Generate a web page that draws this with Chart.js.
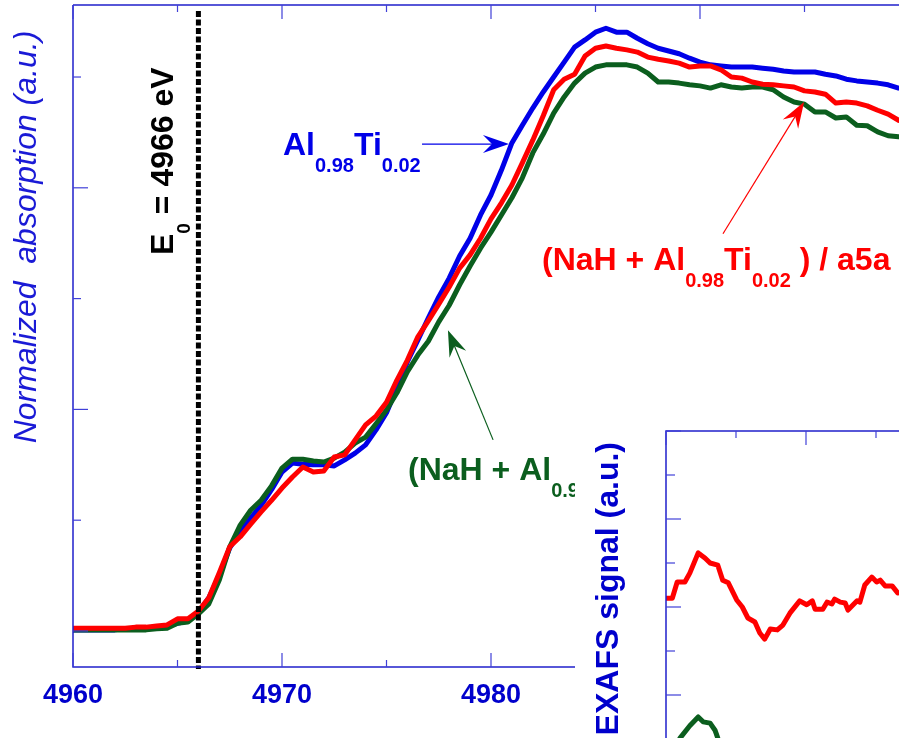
<!DOCTYPE html>
<html>
<head>
<meta charset="utf-8">
<script src="https://cdn.jsdelivr.net/npm/chart.js@4/dist/chart.umd.min.js"></script>
<style>
  html, body { margin: 0; padding: 0; background: #fff; overflow: hidden; width: 899px; height: 738px; }
  #main { position: absolute; left: 0; top: 0; }
  #inset { position: absolute; left: 575px; top: 415px; background: #fff; }
</style>
</head>
<body>
<canvas id="main" width="960" height="738"></canvas>
<canvas id="inset" width="380" height="420"></canvas>
<script>
// photon energy (eV)
const energy = [
  4960, 4960.5, 4961, 4961.5, 4962, 4962.5, 4963, 4963.5, 4964, 4964.5,
  4965, 4965.5, 4966, 4966.5, 4967, 4967.5, 4968, 4968.5, 4969, 4969.5,
  4970, 4970.5, 4971, 4971.5, 4972, 4972.5, 4973, 4973.5, 4974, 4974.5,
  4975, 4975.5, 4976, 4976.5, 4977, 4977.5, 4978, 4978.5, 4979, 4979.5,
  4980, 4980.5, 4981, 4981.5, 4982, 4982.5, 4983, 4983.5, 4984, 4984.5,
  4985, 4985.5, 4986, 4986.5, 4987, 4987.5, 4988, 4988.5, 4989, 4989.5,
  4990, 4990.5, 4991, 4991.5, 4992, 4992.5, 4993, 4993.5, 4994, 4994.5,
  4995, 4995.5, 4996, 4996.5, 4997, 4997.5, 4998, 4998.5, 4999, 4999.5, 5000
];

// Al0.98Ti0.02
const alTi = [
  0.002, 0.002, 0.002, 0.002, 0.002, 0.004, 0.004, 0.004, 0.005, 0.009,
  0.014, 0.018, 0.034, 0.060, 0.101, 0.150, 0.179, 0.204, 0.227, 0.255,
  0.287, 0.303, 0.301, 0.300, 0.300, 0.298, 0.309, 0.321, 0.336, 0.363,
  0.394, 0.439, 0.486, 0.525, 0.565, 0.603, 0.637, 0.677, 0.709, 0.751,
  0.787, 0.832, 0.881, 0.913, 0.944, 0.973, 1.000, 1.027, 1.054, 1.067,
  1.081, 1.088, 1.081, 1.081, 1.070, 1.060, 1.052, 1.047, 1.042, 1.034,
  1.027, 1.022, 1.020, 1.018, 1.018, 1.018, 1.016, 1.014, 1.011, 1.009,
  1.009, 1.009, 1.005, 1.002, 0.996, 0.993, 0.991, 0.989, 0.986, 0.980, 0.977
];

// (NaH + Al0.98Ti0.02) / a5a
const nahA5a = [
  0.005, 0.005, 0.005, 0.005, 0.005, 0.005, 0.007, 0.007, 0.009, 0.011,
  0.022, 0.022, 0.036, 0.060, 0.105, 0.152, 0.170, 0.193, 0.215, 0.236,
  0.258, 0.278, 0.296, 0.287, 0.289, 0.314, 0.318, 0.345, 0.372, 0.388,
  0.413, 0.453, 0.489, 0.531, 0.560, 0.590, 0.621, 0.655, 0.679, 0.709,
  0.744, 0.773, 0.805, 0.845, 0.886, 0.930, 0.977, 0.996, 1.005, 1.038,
  1.052, 1.056, 1.052, 1.049, 1.045, 1.036, 1.032, 1.029, 1.025, 1.018,
  1.020, 1.020, 1.013, 1.000, 0.998, 0.991, 0.987, 0.986, 0.984, 0.982,
  0.975, 0.973, 0.969, 0.953, 0.955, 0.953, 0.948, 0.940, 0.933, 0.922, 0.917
];

// (NaH + Al0.98Ti0.02)
const nahAlTi = [
  0.002, 0.002, 0.002, 0.002, 0.002, 0.002, 0.002, 0.002, 0.004, 0.005,
  0.014, 0.016, 0.031, 0.049, 0.092, 0.152, 0.191, 0.218, 0.236, 0.262,
  0.294, 0.310, 0.310, 0.307, 0.305, 0.312, 0.323, 0.339, 0.350, 0.374,
  0.399, 0.430, 0.468, 0.498, 0.523, 0.558, 0.588, 0.625, 0.659, 0.691,
  0.720, 0.751, 0.782, 0.818, 0.863, 0.897, 0.935, 0.964, 0.989, 1.007,
  1.018, 1.022, 1.022, 1.022, 1.018, 1.007, 0.991, 0.991, 0.989, 0.986,
  0.984, 0.980, 0.986, 0.982, 0.980, 0.982, 0.982, 0.977, 0.964, 0.955,
  0.951, 0.937, 0.937, 0.926, 0.928, 0.913, 0.912, 0.901, 0.894, 0.892, 0.890
];

// axis ticks
const xTicks = [4960, 4965, 4970, 4975, 4980, 4985, 4990, 4995, 5000];
const xTickLabels = ['4960', '', '4970', '', '4980', '', '4990', '', '5000'];
const yTicks = [0, 0.2, 0.4, 0.6, 0.8, 1.0];
const yMajor = [0, 0.4, 0.8];
const edgeE0 = 4966;

// inset: EXAFS signal
const insetKRed = [2.00, 2.09, 2.16, 2.27, 2.34, 2.46, 2.56, 2.63, 2.74, 2.81, 2.89,
  3.01, 3.09, 3.17, 3.27, 3.34, 3.41, 3.49, 3.59, 3.67, 3.77, 3.91, 4.01, 4.09,
  4.13, 4.24, 4.30, 4.37, 4.41, 4.49, 4.56, 4.60, 4.73, 4.77, 4.84, 4.94, 5.01,
  5.06, 5.13, 5.23, 5.31];
const insetRed = [0.20, 0.20, 0.57, 0.57, 0.77, 1.23, 1.11, 1.00, 0.95, 0.61, 0.55,
  0.16, 0.00, -0.25, -0.34, -0.59, -0.73, -0.50, -0.52, -0.41, -0.14, 0.14, 0.05, 0.14,
  -0.05, -0.05, 0.11, 0.07, 0.18, 0.11, 0.09, -0.07, 0.14, 0.11, 0.50, 0.68, 0.57,
  0.61, 0.48, 0.48, 0.32];
const insetKGreen = [2.10, 2.20, 2.34, 2.46, 2.53, 2.63, 2.70, 2.74, 2.80];
const insetGreen = [-3.30, -2.98, -2.70, -2.50, -2.61, -2.64, -2.80, -2.98, -3.30];
const insetXTicks = [2, 3, 4, 5, 6];
const insetYTicks = [-4, -3, -2, -1, 0, 1, 2, 3, 4];

const BLUE = '#0000e8';
const RED = '#ff0000';
const GREEN = '#0b5e1e';
const AXIS = '#2020cc';
const FONT = '"Liberation Sans", Arial, sans-serif';

function pts(xs, ys) {
  return xs.map((v, i) => ({ x: v, y: ys[i] }));
}

function drawRich(ctx, parts, x, y, big, small, drop) {
  let cx = x;
  for (const [txt, sub] of parts) {
    ctx.font = 'bold ' + (sub ? small : big) + 'px ' + FONT;
    ctx.fillText(txt, cx, sub ? y + drop : y);
    cx += ctx.measureText(txt).width;
  }
}

function arrow(ctx, x0, y0, x1, y1, color) {
  const ang = Math.atan2(y1 - y0, x1 - x0);
  ctx.save();
  ctx.strokeStyle = color;
  ctx.fillStyle = color;
  ctx.lineWidth = 1.2;
  ctx.beginPath();
  ctx.moveTo(x0, y0);
  ctx.lineTo(x1 - 16 * Math.cos(ang), y1 - 16 * Math.sin(ang));
  ctx.stroke();
  ctx.translate(x1, y1);
  ctx.rotate(ang);
  ctx.beginPath();
  ctx.moveTo(0, 0);
  ctx.lineTo(-26, -9);
  ctx.lineTo(-17, 0);
  ctx.lineTo(-26, 9);
  ctx.closePath();
  ctx.fill();
  ctx.restore();
}

// frame, ticks, labels and notes of the main plot
const mainDecor = {
  id: 'mainDecor',
  afterDatasetsDraw(chart) {
    const { ctx, chartArea: a, scales: { x, y } } = chart;
    ctx.save();

    // E0 dashed line
    const ex = x.getPixelForValue(edgeE0);
    ctx.strokeStyle = '#000';
    ctx.lineWidth = 5;
    ctx.setLineDash([6, 2.5]);
    ctx.beginPath();
    ctx.moveTo(ex, 11);
    ctx.lineTo(ex, a.bottom + 2);
    ctx.stroke();
    ctx.setLineDash([]);

    // frame
    ctx.strokeStyle = AXIS;
    ctx.lineWidth = 1.5;
    ctx.beginPath();
    ctx.moveTo(a.left, a.top);
    ctx.lineTo(a.right, a.top);
    ctx.moveTo(a.left, a.top);
    ctx.lineTo(a.left, a.bottom);
    ctx.lineTo(a.right, a.bottom);
    ctx.stroke();

    ctx.lineWidth = 1.2;
    ctx.strokeStyle = '#4040d8';
    xTicks.forEach((v, i) => {
      const px = x.getPixelForValue(v);
      const len = xTickLabels[i] ? 14 : 7;
      ctx.beginPath();
      ctx.moveTo(px, a.top);
      ctx.lineTo(px, a.top + len);
      ctx.moveTo(px, a.bottom);
      ctx.lineTo(px, a.bottom - len);
      ctx.stroke();
    });
    yTicks.forEach(v => {
      const py = y.getPixelForValue(v);
      const len = yMajor.includes(v) ? 15 : 8;
      ctx.beginPath();
      ctx.moveTo(a.left, py);
      ctx.lineTo(a.left + len, py);
      ctx.stroke();
    });

    // tick labels
    ctx.fillStyle = '#0000cc';
    ctx.font = 'bold 27px ' + FONT;
    ctx.textAlign = 'center';
    ctx.textBaseline = 'alphabetic';
    xTicks.forEach((v, i) => {
      if (xTickLabels[i]) ctx.fillText(xTickLabels[i], x.getPixelForValue(v), 703);
    });

    // y title
    ctx.save();
    ctx.translate(36, 237);
    ctx.rotate(-Math.PI / 2);
    ctx.font = 'italic 32px ' + FONT;
    ctx.fillStyle = '#1a1ad6';
    ctx.fillText('Normalized  absorption (a.u.)', 0, 0);
    ctx.restore();

    ctx.textAlign = 'left';

    // E0 label
    ctx.save();
    ctx.translate(173, 255);
    ctx.rotate(-Math.PI / 2);
    ctx.fillStyle = '#000';
    drawRich(ctx, [['E', 0], ['0', 1], [' = 4966 eV', 0]], 0, 0, 32, 19, 17);
    ctx.restore();

    // series notes
    ctx.fillStyle = BLUE;
    drawRich(ctx, [['Al', 0], ['0.98', 1], ['Ti', 0], ['0.02', 1]], 283, 155, 32, 20, 17);
    arrow(ctx, x.getPixelForValue(4976.7), y.getPixelForValue(0.879),
      x.getPixelForValue(4980.86), y.getPixelForValue(0.879), BLUE);

    ctx.fillStyle = RED;
    drawRich(ctx, [['(NaH + Al', 0], ['0.98', 1], ['Ti', 0], ['0.02', 1], [' ) / a5a', 0]], 542, 270, 32, 20, 17);
    arrow(ctx, x.getPixelForValue(4991.1), y.getPixelForValue(0.717),
      x.getPixelForValue(4994.98), y.getPixelForValue(0.955), RED);

    ctx.fillStyle = GREEN;
    drawRich(ctx, [['(NaH + Al', 0], ['0.98', 1], ['Ti', 0], ['0.02', 1], [')', 0]], 408, 480, 32, 20, 17);
    arrow(ctx, x.getPixelForValue(4980.1), y.getPixelForValue(0.345),
      x.getPixelForValue(4977.94), y.getPixelForValue(0.543), GREEN);

    ctx.restore();
  }
};

const insetDecor = {
  id: 'insetDecor',
  afterDatasetsDraw(chart) {
    const { ctx, chartArea: a, scales: { x, y } } = chart;
    ctx.save();
    ctx.strokeStyle = AXIS;
    ctx.lineWidth = 1.5;
    ctx.beginPath();
    ctx.moveTo(a.right, a.top);
    ctx.lineTo(a.left, a.top);
    ctx.lineTo(a.left, a.bottom);
    ctx.stroke();

    ctx.lineWidth = 1.2;
    ctx.strokeStyle = '#4040d8';
    insetXTicks.forEach(v => {
      const px = x.getPixelForValue(v);
      const len = v % 2 === 0 ? 14 : 7;
      ctx.beginPath();
      ctx.moveTo(px, a.top);
      ctx.lineTo(px, a.top + len);
      ctx.stroke();
    });
    insetYTicks.forEach(v => {
      const py = y.getPixelForValue(v);
      const len = v % 2 === 0 ? 15 : 9;
      ctx.beginPath();
      ctx.moveTo(a.left, py);
      ctx.lineTo(a.left + len, py);
      ctx.stroke();
    });

    ctx.translate(43, 27);
    ctx.rotate(-Math.PI / 2);
    ctx.fillStyle = '#0000cc';
    ctx.font = 'bold 32px ' + FONT;
    ctx.textAlign = 'right';
    ctx.fillText('EXAFS signal (a.u.)', 0, 0);
    ctx.restore();
  }
};

const lineStyle = {
  pointRadius: 0,
  borderWidth: 5,
  tension: 0,
  borderJoinStyle: 'round',
  borderCapStyle: 'round',
  fill: false
};

new Chart(document.getElementById('main'), {
  type: 'line',
  data: {
    datasets: [
      Object.assign({ label: '(NaH + Al0.98Ti0.02) / a5a', data: pts(energy, nahA5a), borderColor: RED }, lineStyle),
      Object.assign({ label: '(NaH + Al0.98Ti0.02)', data: pts(energy, nahAlTi), borderColor: GREEN }, lineStyle),
      Object.assign({ label: 'Al0.98Ti0.02', data: pts(energy, alTi), borderColor: BLUE }, lineStyle)
    ]
  },
  options: {
    responsive: false,
    devicePixelRatio: 1,
    animation: false,
    layout: { padding: { left: 73, top: 5, right: 51, bottom: 71 } },
    plugins: { legend: { display: false }, tooltip: { enabled: false } },
    scales: {
      x: { type: 'linear', min: 4960, max: 5000, display: false },
      y: { type: 'linear', min: -0.065, max: 1.130, display: false }
    }
  },
  plugins: [mainDecor]
});

new Chart(document.getElementById('inset'), {
  type: 'line',
  data: {
    datasets: [
      Object.assign({ label: 'a5a', data: pts(insetKRed, insetRed), borderColor: RED }, lineStyle),
      Object.assign({ label: 'NaH + AlTi', data: pts(insetKGreen, insetGreen), borderColor: GREEN }, lineStyle)
    ]
  },
  options: {
    responsive: false,
    devicePixelRatio: 1,
    animation: false,
    layout: { padding: { left: 91, top: 16, right: 9, bottom: 8 } },
    plugins: { legend: { display: false }, tooltip: { enabled: false } },
    scales: {
      x: { type: 'linear', min: 2, max: 6, display: false },
      y: { type: 'linear', min: -5, max: 4, display: false }
    }
  },
  plugins: [insetDecor]
});
</script>
</body>
</html>
